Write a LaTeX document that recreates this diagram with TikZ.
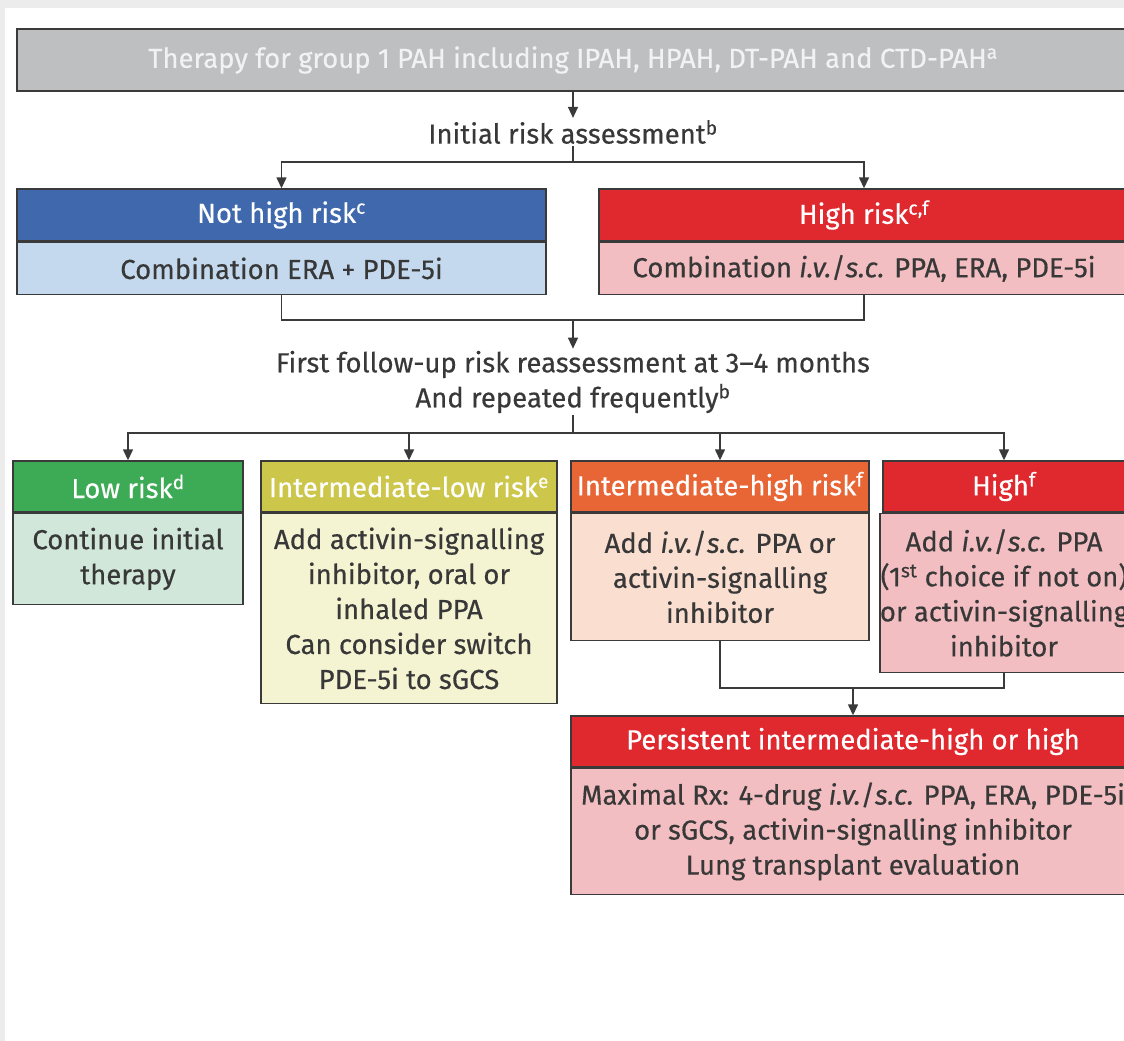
\documentclass[tikz,border=0pt]{standalone}
\usepackage{fontspec}
\setmainfont{Fira Sans}[FakeBold=0.4]
\usetikzlibrary{arrows.meta}
\definecolor{framegray}{HTML}{ECECEC}
\definecolor{titlefill}{HTML}{BEBFC1}
\definecolor{titletext}{HTML}{F2F2F2}
\definecolor{edge}{HTML}{3A3A3A}
\definecolor{ink}{HTML}{383838}
\definecolor{blueH}{HTML}{3F68AD}
\definecolor{blueB}{HTML}{C4D9EE}
\definecolor{redH}{HTML}{E0292F}
\definecolor{pinkB}{HTML}{F2BEC1}
\definecolor{greenH}{HTML}{3DAA56}
\definecolor{greenB}{HTML}{D0E7DA}
\definecolor{oliveH}{HTML}{CCC74A}
\definecolor{yellowB}{HTML}{F4F3D2}
\definecolor{orangeH}{HTML}{E86636}
\definecolor{peachB}{HTML}{FADFD0}
\tikzset{
  box/.style={draw=edge, line width=1.4pt, inner sep=0pt, align=center,
    font=\fontsize{27.5}{35}\selectfont},
  hdr/.style={box, text=white},
  bdy/.style={box, text=ink, anchor=north},
  lbl/.style={inner sep=2pt, align=center, text=ink, font=\fontsize{27.5}{35}\selectfont},
  conn/.style={draw=edge, line width=1.4pt},
  arr/.style={conn, -{Triangle[width=10pt,length=11pt]}}
}
\begin{document}
\begin{tikzpicture}[x=1pt,y=-1pt]
\useasboundingbox (0,0) rectangle (1124,1041);
\clip (0,0) rectangle (1124,1041);
\fill[white] (0,0) rectangle (1124,1041);
\fill[framegray] (0,0) rectangle (1124,8);
\fill[framegray] (0,0) rectangle (5,1041);

% title
\node[box, fill=titlefill, text=titletext, minimum width=1112, minimum height=62] (title) at (573,60)
  {Therapy for group 1 PAH including IPAH, HPAH, DT-PAH and CTD-PAH\textsuperscript{a}};
\node[lbl] (ira) at (573,132) {Initial risk assessment\textsuperscript{b}};

% first level
\node[hdr, fill=blueH, minimum width=529, minimum height=52] (nhrH) at (281.5,215) {Not high risk\textsuperscript{c}};
\node[bdy, fill=blueB, minimum width=529, minimum height=52] (nhrB) at (nhrH.south) {Combination ERA + PDE-5i};
\node[hdr, fill=redH, minimum width=530, minimum height=52] (hrH) at (864,215) {High risk\textsuperscript{c,f}};
\node[bdy, fill=pinkB, minimum width=530, minimum height=52] (hrB) at (hrH.south) {Combination \textit{i.v.}/\textit{s.c.} PPA, ERA, PDE-5i};

\node[lbl] (fu) at (573,382) {First follow-up risk reassessment at 3--4 months\\And repeated frequently\textsuperscript{b}};

% second level
\node[hdr, fill=greenH, minimum width=230, minimum height=51] (lowH) at (128,486.5) {Low risk\textsuperscript{d}};
\node[bdy, fill=greenB, minimum width=230, minimum height=91] (lowB) at (lowH.south) {Continue initial\\therapy};
\node[hdr, fill=oliveH, minimum width=296, minimum height=51] (ilH) at (409,486.5) {Intermediate-low risk\textsuperscript{e}};
\node[bdy, fill=yellowB, minimum width=296, minimum height=190] (ilB) at (ilH.south) {Add activin-signalling\\inhibitor, oral or\\inhaled PPA\\Can consider switch\\PDE-5i to sGCS};
\node[hdr, fill=orangeH, minimum width=298, minimum height=51] (ihH) at (720,486.5) {Intermediate-high risk\textsuperscript{f}};
\node[bdy, fill=peachB, minimum width=298, minimum height=127] (ihB) at (ihH.south) {Add \textit{i.v.}/\textit{s.c.} PPA or\\activin-signalling\\inhibitor};
\node[hdr, fill=redH, minimum width=242, minimum height=51] (hiH) at (1004,486.5) {High\textsuperscript{f}};
\node[bdy, fill=pinkB, minimum width=242, minimum height=159] (hiB) at (hiH.south) {Add \textit{i.v.}/\textit{s.c.} PPA\\(1\textsuperscript{st} choice if not on)\\or activin-signalling\\inhibitor};

% persistent
\node[hdr, fill=redH, minimum width=564, minimum height=51] (peH) at (853,741.5) {Persistent intermediate-high or high};
\node[bdy, fill=pinkB, minimum width=564, minimum height=126] (peB) at (peH.south) {Maximal Rx: 4-drug \textit{i.v.}/\textit{s.c.} PPA, ERA, PDE-5i\\or sGCS, activin-signalling inhibitor\\Lung transplant evaluation};

% connectors
\draw[arr] (title.south) -- (ira.north);
\coordinate (b1) at (573,162);
\draw[conn] (ira.south) -- (b1);
\draw[arr] (b1) -| (nhrH.north);
\draw[arr] (b1) -| (hrH.north);

\coordinate (m1) at (573,320);
\draw[conn] (nhrB.south) |- (m1) -| (hrB.south);
\draw[arr] (m1) -- (fu.north);

\coordinate (b2) at (573,433);
\draw[conn] (fu.south) -- (b2);
\draw[arr] (b2) -| (lowH.north);
\draw[arr] (b2) -| (ilH.north);
\draw[arr] (b2) -| (ihH.north);
\draw[arr] (b2) -| (hiH.north);

\coordinate (m2) at (853,688);
\draw[conn] (ihB.south) |- (m2) -| (hiB.south);
\draw[arr] (m2) -- (peH.north);
\end{tikzpicture}
\end{document}
